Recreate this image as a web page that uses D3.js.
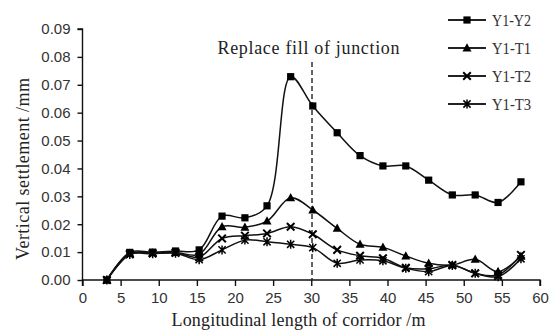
<!DOCTYPE html>
<html>
<head>
<meta charset="utf-8">
<script src="https://cdn.jsdelivr.net/npm/d3@7"></script>
<style>
  html, body { margin: 0; padding: 0; background: #fff; }
  svg { display: block; }
</style>
</head>
<body>
<svg id="chart" width="554" height="331"></svg>
<script>
// Measurement stations along the corridor (m)
const stations = [3.2, 6.2, 9.2, 12.2, 15.3, 18.3, 21.3, 24.2, 27.3, 30.2, 33.4, 36.4, 39.4, 42.4, 45.4, 48.5, 51.5, 54.5, 57.5];

// Vertical settlement (mm) for each monitoring line
const y1y2 = [0, 0.0099, 0.0100, 0.0104, 0.0108, 0.0229, 0.0223, 0.0266, 0.0729, 0.0624, 0.0528, 0.0446, 0.0409, 0.0409, 0.0358, 0.0305, 0.0305, 0.0278, 0.0352];
const y1t1 = [0, 0.0095, 0.0097, 0.0099, 0.0092, 0.0191, 0.0189, 0.0211, 0.0295, 0.0251, 0.0185, 0.0128, 0.0117, 0.0086, 0.0060, 0.0054, 0.0074, 0.0030, 0.0085];
const y1t2 = [0, 0.0093, 0.0096, 0.0098, 0.0082, 0.0149, 0.0159, 0.0167, 0.0191, 0.0164, 0.0108, 0.0087, 0.0078, 0.0044, 0.0040, 0.0054, 0.0024, 0.0018, 0.0090];
const y1t3 = [0, 0.0091, 0.0094, 0.0096, 0.0073, 0.0108, 0.0143, 0.0137, 0.0128, 0.0116, 0.0060, 0.0072, 0.0069, 0.0042, 0.0030, 0.0052, 0.0024, 0.0012, 0.0076];

const seriesNames = ["Y1-Y2", "Y1-T1", "Y1-T2", "Y1-T3"];
const seriesMarkers = ["square", "triangle", "cross", "asterisk"];
const seriesValues = [y1y2, y1t1, y1t2, y1t3];

const xTicks = [0, 5, 10, 15, 20, 25, 30, 35, 40, 45, 50, 55, 60];
const yTicks = [0, 0.01, 0.02, 0.03, 0.04, 0.05, 0.06, 0.07, 0.08, 0.09];
const junctionX = 30.1;

const svg = d3.select("#chart");
const plotLeft = 82.5, plotRight = 540, plotTop = 29, plotBottom = 280;

const x = d3.scaleLinear().domain([0, 60]).range([plotLeft, plotRight]);
const y = d3.scaleLinear().domain([0, 0.09]).range([plotBottom, plotTop]);

const numFont = "'Liberation Sans', Arial, sans-serif";
const serif = "'Liberation Serif', 'Times New Roman', serif";

// Axes
const xAxis = svg.append("g")
  .attr("transform", `translate(0,${plotBottom})`)
  .call(d3.axisBottom(x).tickValues(xTicks).tickSize(6).tickPadding(6).tickFormat(d3.format("d")));
const yAxis = svg.append("g")
  .attr("transform", `translate(${plotLeft},0)`)
  .call(d3.axisLeft(y).tickValues(yTicks).tickSize(5).tickPadding(7).tickFormat(d3.format(".2f")));

[xAxis, yAxis].forEach(g => {
  g.select(".domain").attr("stroke", "#111").attr("stroke-width", 1.4);
  g.selectAll(".tick line").attr("stroke", "#111").attr("stroke-width", 1.4);
  g.selectAll(".tick text").attr("fill", "#333").style("font-family", numFont).style("font-size", "15px");
});
xAxis.select(".domain").attr("d", `M${plotLeft},6V0H${plotRight}V6`);
yAxis.select(".domain").attr("d", `M-5,${plotTop}H0V${plotBottom}`);

// Axis titles
svg.append("text")
  .attr("x", 171.5).attr("y", 326)
  .attr("textLength", 254).attr("lengthAdjust", "spacing")
  .style("font-family", serif).style("font-size", "18px").attr("fill", "#222")
  .text("Longitudinal length of corridor /m");

svg.append("text")
  .attr("transform", "translate(29,260) rotate(-90)")
  .attr("textLength", 182).attr("lengthAdjust", "spacing")
  .style("font-family", serif).style("font-size", "18px").attr("fill", "#222")
  .text("Vertical settlement /mm");

// Junction marker
svg.append("line")
  .attr("x1", x(junctionX)).attr("x2", x(junctionX))
  .attr("y1", 62).attr("y2", plotBottom)
  .attr("stroke", "#111").attr("stroke-width", 1.3)
  .attr("stroke-dasharray", "5,3");

svg.append("text")
  .attr("x", 217.5).attr("y", 54)
  .attr("textLength", 182).attr("lengthAdjust", "spacing")
  .style("font-family", serif).style("font-size", "18px").attr("fill", "#222")
  .text("Replace fill of junction");

// Marker drawing
function drawMarker(g, type, cx, cy) {
  if (type === "square") {
    g.append("rect").attr("x", cx - 3.6).attr("y", cy - 3.6).attr("width", 7.2).attr("height", 7.2).attr("fill", "#000");
  } else if (type === "triangle") {
    g.append("path").attr("d", `M${cx},${cy - 4.8}L${cx + 4.5},${cy + 3.4}L${cx - 4.5},${cy + 3.4}Z`).attr("fill", "#000");
  } else if (type === "cross") {
    g.append("path").attr("d", `M${cx - 3.8},${cy - 3.8}L${cx + 3.8},${cy + 3.8}M${cx + 3.8},${cy - 3.8}L${cx - 3.8},${cy + 3.8}`)
      .attr("stroke", "#000").attr("stroke-width", 2);
  } else {
    g.append("path").attr("d", `M${cx - 3.6},${cy - 3.6}L${cx + 3.6},${cy + 3.6}M${cx + 3.6},${cy - 3.6}L${cx - 3.6},${cy + 3.6}M${cx},${cy - 4.5}L${cx},${cy + 4.5}`)
      .attr("stroke", "#000").attr("stroke-width", 1.5);
  }
}

// Series lines and markers
const line = d3.line().x(d => x(d[0])).y(d => y(d[1])).curve(d3.curveCatmullRom.alpha(0.5));

seriesValues.forEach((vals, i) => {
  const pts = stations.map((s, j) => [s, vals[j]]);
  const g = svg.append("g");
  g.append("path").datum(pts).attr("d", line)
    .attr("fill", "none").attr("stroke", "#111").attr("stroke-width", 1.5);
  pts.forEach(p => drawMarker(g, seriesMarkers[i], x(p[0]), y(p[1])));
});

// Legend
const legend = svg.append("g");
seriesNames.forEach((name, i) => {
  const ly = 20 + i * 28;
  legend.append("line").attr("x1", 448).attr("x2", 486).attr("y1", ly).attr("y2", ly)
    .attr("stroke", "#222").attr("stroke-width", 1.8);
  drawMarker(legend, seriesMarkers[i], 467, ly);
  legend.append("text").attr("x", 492).attr("y", ly + 5.5)
    .attr("textLength", 39).attr("lengthAdjust", "spacingAndGlyphs")
    .style("font-family", serif).style("font-size", "16px").attr("fill", "#333")
    .text(name);
});
</script>
</body>
</html>
